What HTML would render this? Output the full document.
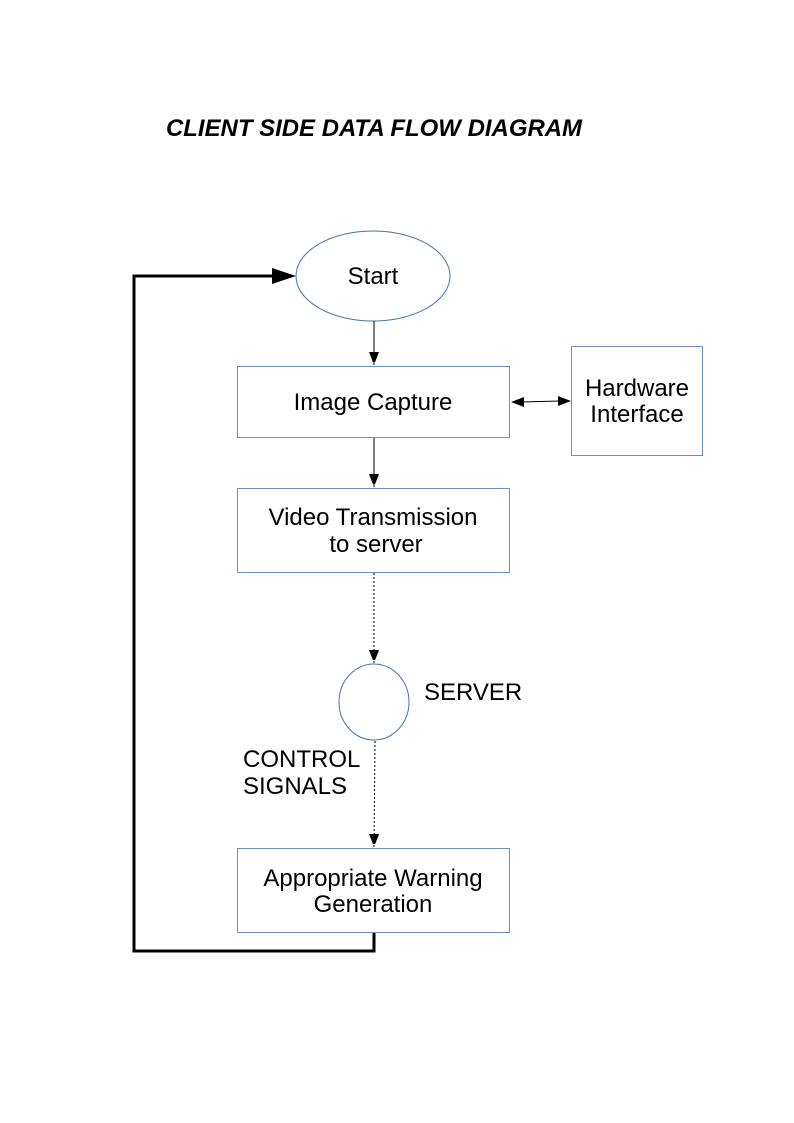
<!DOCTYPE html>
<html><head><style>
body{margin:0;background:#fff}
svg{display:block}
text{font-family:"Liberation Sans",sans-serif;fill:#000}
</style></head><body>
<svg width="794" height="1123" viewBox="0 0 794 1123">
<defs>
<marker id="a" markerWidth="10" markerHeight="14" refX="13" refY="5" orient="auto" markerUnits="userSpaceOnUse"><path d="M0,0 L13,5 L0,10 z" fill="#000"/></marker>
</defs>
<text x="166" y="136" font-size="24" font-weight="bold" font-style="italic" textLength="416" lengthAdjust="spacingAndGlyphs">CLIENT SIDE DATA FLOW DIAGRAM</text>
<ellipse cx="373" cy="276" rx="77" ry="45" fill="#fff" stroke="#4a72b0" stroke-width="1"/>
<text x="373" y="284" font-size="24" text-anchor="middle">Start</text>
<line x1="374" y1="321" x2="374" y2="365" stroke="#000" stroke-width="1" marker-end="url(#a)"/>
<rect x="237.5" y="366.5" width="272" height="71" fill="#fff" stroke="#6f8fc4"/>
<text x="373" y="410" font-size="24" text-anchor="middle">Image Capture</text>
<rect x="571.5" y="346.5" width="131" height="109" fill="#fff" stroke="#6f8fc4"/>
<text x="637" y="396" font-size="24" text-anchor="middle">Hardware</text>
<text x="637" y="422" font-size="24" text-anchor="middle">Interface</text>
<line x1="520" y1="402" x2="560" y2="401" stroke="#000" stroke-width="1"/>
<path d="M511,402 L524,397 L524,407 z" fill="#000"/>
<path d="M571,401 L558,396 L558,406 z" fill="#000"/>
<line x1="374" y1="438" x2="374" y2="487" stroke="#000" stroke-width="1" marker-end="url(#a)"/>
<rect x="237.5" y="488.5" width="272" height="84" fill="#fff" stroke="#6f8fc4"/>
<text x="373" y="525" font-size="24" text-anchor="middle">Video Transmission</text>
<text x="376" y="552" font-size="24" text-anchor="middle">to server</text>
<line x1="374" y1="573" x2="374" y2="663" stroke="#000" stroke-width="1" stroke-dasharray="2,2" marker-end="url(#a)"/>
<ellipse cx="374" cy="702" rx="35" ry="38" fill="#fff" stroke="#4a72b0"/>
<text x="424" y="700" font-size="24">SERVER</text>
<text x="243" y="767" font-size="24">CONTROL</text>
<text x="243" y="794" font-size="24">SIGNALS</text>
<line x1="375" y1="741" x2="374" y2="847" stroke="#000" stroke-width="1" stroke-dasharray="2,2" marker-end="url(#a)"/>
<rect x="237.5" y="848.5" width="272" height="84" fill="#fff" stroke="#6f8fc4"/>
<text x="373" y="886" font-size="24" text-anchor="middle">Appropriate Warning</text>
<text x="373" y="912" font-size="24" text-anchor="middle">Generation</text>
<polyline points="374,933 374,951 134,951 134,276 280,276" fill="none" stroke="#000" stroke-width="3"/>
<path d="M296,276 L272,268 L272,284 z" fill="#000"/>
</svg>
</body></html>
